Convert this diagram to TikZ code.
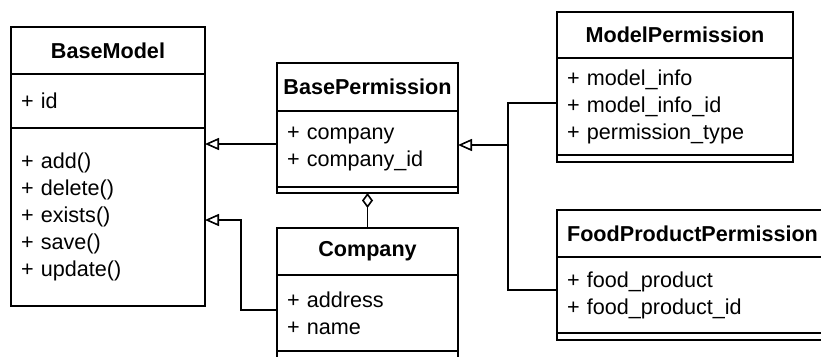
\documentclass[tikz,border=0pt]{standalone}
\usepackage{fontspec}
\setmainfont{Liberation Sans}
\usetikzlibrary{positioning,arrows.meta}

\begin{document}
\begin{tikzpicture}
    [ x=1pt, y=-1pt, line width=1.6pt,
      cls-name/.style = {
        shape=rectangle, draw, align=center,
        minimum width=#1, minimum height=47pt,
        inner sep=0pt, outer sep=0pt,
        font=\fontsize{21.6pt}{27pt}\selectfont\bfseries
      },
      cls-field/.style = {
        shape=rectangle, draw, align=left, text width=#1,
        inner xsep=10pt, inner ysep=0pt, outer sep=0pt,
        font=\fontsize{21.6pt}{27pt}\selectfont
      },
      inherit/.style = {-{Triangle[open, length=14pt, width=12pt]}, draw},
      aggr/.style = {-{Diamond[open, length=15pt, width=11pt]}, draw}]
      \useasboundingbox (0,0) rectangle (821,356);
      \clip (0,0) rectangle (821,356);
      \node [cls-name=194pt, anchor=north west] (bmName) at (11,27) {BaseModel};
      \node [cls-field=174pt, minimum height=54pt, below=0pt of bmName] (bmAttr) {+ id};
      \node [cls-field=174pt, minimum height=178pt, below=0pt of bmAttr] (bmOps)
        {+ add()\\+ delete()\\+ exists()\\+ save()\\+ update()};
      \node [cls-name=181pt, minimum height=48pt, anchor=north west] (bpName) at (277,63) {BasePermission};
      \node [cls-field=161pt, minimum height=76pt, below=0pt of bpName] (bpAttr)
        {+ company\\+ company\_id};
      \node [cls-field=161pt, minimum height=6pt, below=0pt of bpAttr] (bpEnd) {};
      \node [cls-name=181pt, anchor=north west] (coName) at (277,228) {Company};
      \node [cls-field=161pt, minimum height=76pt, below=0pt of coName] (coAttr)
        {+ address\\+ name};
      \node [cls-field=161pt, minimum height=7pt, below=0pt of coAttr] (coEnd) {};
      \node [cls-name=236pt, minimum height=46pt, anchor=north west] (mpName) at (557,12) {ModelPermission};
      \node [cls-field=216pt, minimum height=97pt, below=0pt of mpName] (mpAttr)
        {+ model\_info\\+ model\_info\_id\\+ permission\_type};
      \node [cls-field=216pt, minimum height=7pt, below=0pt of mpAttr] (mpEnd) {};
      \node [cls-name=271pt, anchor=north west] (fpName) at (557,210) {FoodProductPermission};
      \node [cls-field=251pt, minimum height=76pt, below=0pt of fpName] (fpAttr)
        {+ food\_product\\+ food\_product\_id};
      \node [cls-field=251pt, minimum height=7pt, below=0pt of fpAttr] (fpEnd) {};
      \coordinate (inh1) at ([yshift=5pt]bpAttr.west);
      \coordinate (inh2) at ([yshift=3pt]coAttr.west);
      \coordinate (inh3) at ([yshift=4pt]bpAttr.east);
      \draw [inherit] (inh1) -- (inh1 -| bmOps.east);
      \draw [inherit] (inh2) -- ++(-36,0) |- ([yshift=-3pt]bmOps.east);
      \draw [inherit] ([yshift=3.5pt]mpAttr.west) -| ([xshift=50pt]inh3) -- (inh3);
      \draw ([yshift=5pt]fpAttr.west) -| ([xshift=50pt]inh3);
      \draw [aggr] (coName.north) -- (bpEnd.south);
  \end{tikzpicture}
\end{document}
